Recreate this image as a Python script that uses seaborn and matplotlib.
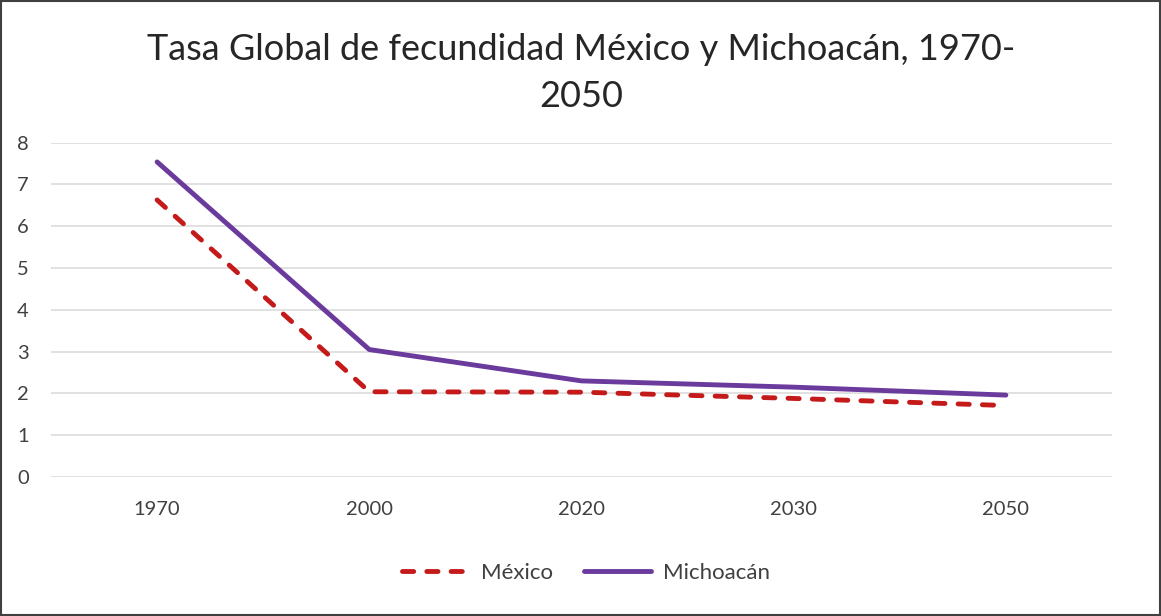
import pandas as pd
import matplotlib.pyplot as plt
import seaborn as sns
from matplotlib.patches import Rectangle

# Data
years = ["1970", "2000", "2020", "2030", "2050"]
mexico = [6.63, 2.04, 2.03, 1.88, 1.71]
michoacan = [7.54, 3.05, 2.30, 2.15, 1.96]
series_names = ["México", "Michoacán"]
title_text = "Tasa Global de fecundidad México y Michoacán, 1970-\n2050"

df = pd.DataFrame({
    "year": years * 2,
    "tgf": mexico + michoacan,
    "serie": [series_names[0]] * len(years) + [series_names[1]] * len(years),
})

sns.set_style("white")
plt.rcParams["font.family"] = ["Lato", "DejaVu Sans"]

fig = plt.figure(figsize=(11.61, 6.16), dpi=100)
ax = fig.add_axes([51 / 1161, 1 - 477 / 616, (1112 - 51) / 1161, (477 - 142.7) / 616])

lw = 3.5
dash = (2.3, 2.7)
palette = {"México": "#C51A1A", "Michoacán": "#6A3A9C"}
sns.lineplot(data=df, x="year", y="tgf", hue="serie", style="serie",
             palette=palette, dashes={"México": dash, "Michoacán": ""},
             linewidth=lw, sort=False, ax=ax, legend=False)
for ln in ax.lines:
    ln.set_solid_capstyle("round")
    ln.set_dash_capstyle("round")
    ln.set_solid_joinstyle("round")

ax.set_xlim(-0.5, len(years) - 0.5)
ax.set_ylim(0, 8)
ax.set_yticks(range(0, 9))
ax.set_xlabel("")
ax.set_ylabel("")
ax.grid(axis="y", color="#d9d9d9", linewidth=1.1)
ax.grid(axis="x", visible=False)
for s in ax.spines.values():
    s.set_visible(False)
ax.tick_params(axis="y", length=0, pad=16, labelsize=14.5, labelcolor="#404040")
ax.tick_params(axis="x", length=0, pad=17, labelsize=14.5, labelcolor="#404040")
ax.set_axisbelow(True)

fig.text(581 / 1161, 1 - 73 / 616, title_text, ha="center", va="center",
         fontsize=26, color="#262626", linespacing=1.55)

handles = [plt.Line2D([], [], color=palette["México"], lw=lw, dashes=dash,
                      dash_capstyle="round"),
           plt.Line2D([], [], color=palette["Michoacán"], lw=lw, solid_capstyle="round")]
fig.legend(handles, series_names, loc="center", bbox_to_anchor=(586 / 1161, 1 - 573 / 616),
           ncol=2, frameon=False, fontsize=16, handlelength=3.0, handletextpad=0.55,
           columnspacing=1.4, labelcolor="#404040")

fig.add_artist(Rectangle((0.001, 0.001), 0.998, 0.997, transform=fig.transFigure,
                         fill=False, edgecolor="#404040", linewidth=1.5))

fig.savefig("out.png", dpi=100)
